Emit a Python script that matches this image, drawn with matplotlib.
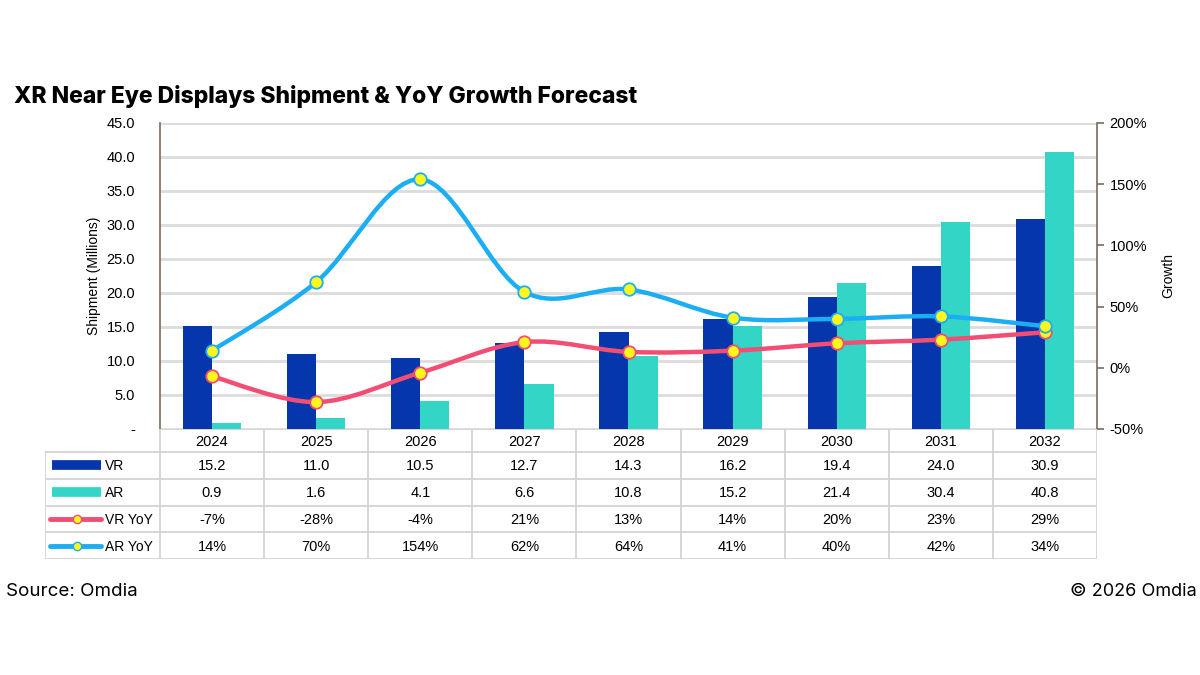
import matplotlib
matplotlib.use("Agg")
import matplotlib.pyplot as plt
import numpy as np
from matplotlib.path import Path
from matplotlib.patches import PathPatch

years = ["2024", "2025", "2026", "2027", "2028", "2029", "2030", "2031", "2032"]
vr = [15.2, 11.0, 10.5, 12.7, 14.3, 16.2, 19.4, 24.0, 30.9]
ar = [0.9, 1.6, 4.1, 6.6, 10.8, 15.2, 21.4, 30.4, 40.8]
vr_yoy = [-7, -28, -4, 21, 13, 14, 20, 23, 29]
ar_yoy = [14, 70, 154, 62, 64, 41, 40, 42, 34]

VR_C = "#0636AC"
AR_C = "#33D6C6"
VRY_C = "#F24D73"
ARY_C = "#1CAEF2"
MK_C = "#FFF71C"
SPINE_C = "#7A6A5C"
GRID_C = "#DCDCDC"

plt.rcParams["font.family"] = ["Liberation Sans", "DejaVu Sans"]

W, H = 1200, 675
fig = plt.figure(figsize=(12, 6.75), dpi=100)

def fx(px):
    return px / W

def fy(py):
    return 1 - py / H

ax_l, ax_r, ax_t, ax_b = 160, 1097, 123, 429
ax = fig.add_axes([fx(ax_l), fy(ax_b), fx(ax_r - ax_l), fy(ax_t) - fy(ax_b)])
x = np.arange(len(years))
bw = 0.28
ax.bar(x - bw / 2, vr, bw, color=VR_C, zorder=2)
ax.bar(x + bw / 2, ar, bw, color=AR_C, zorder=2)
ax.set_xlim(-0.5, len(years) - 0.5)
ax.set_ylim(0, 45)
ax.set_yticks(np.arange(0, 46, 5))
ax.set_yticklabels(["-"] + [f"{v:.1f}" for v in range(5, 46, 5)])
ax.set_xticks([])
ax.yaxis.grid(True, color=GRID_C, lw=2)
ax.set_axisbelow(True)
for s in ["top", "right", "bottom"]:
    ax.spines[s].set_visible(False)
ax.spines["left"].set_color(SPINE_C)
ax.spines["left"].set_linewidth(1.2)
ax.tick_params(axis="y", length=0, labelsize=10.5, pad=18)
ax.set_ylabel("Shipment (Millions)", fontsize=10, labelpad=4)

ax2 = ax.twinx()
ax2.set_ylim(-50, 200)
ax2.set_yticks(np.arange(-50, 201, 50))
ax2.set_yticklabels([f"{v}%" for v in range(-50, 201, 50)])
for s in ["top", "left", "bottom"]:
    ax2.spines[s].set_visible(False)
ax2.spines["right"].set_color(SPINE_C)
ax2.spines["right"].set_linewidth(1.2)
ax2.tick_params(axis="y", length=5, width=1.2, color=SPINE_C, labelsize=10.5, pad=4)
ax2.set_ylabel("Growth", fontsize=10, labelpad=10)


def smooth_path(xs, ys):
    pts = np.column_stack([xs, ys]).astype(float)
    n = len(pts)
    verts = [pts[0]]
    codes = [Path.MOVETO]
    for i in range(n - 1):
        p0 = pts[i - 1] if i > 0 else pts[i]
        p1 = pts[i]
        p2 = pts[i + 1]
        p3 = pts[i + 2] if i + 2 < n else pts[i + 1]
        c1 = p1 + (p2 - p0) / 6
        c2 = p2 - (p3 - p1) / 6
        verts += [c1, c2, p2]
        codes += [Path.CURVE4] * 3
    return Path(verts, codes)


for vals, col in [(vr_yoy, VRY_C), (ar_yoy, ARY_C)]:
    ax2.add_patch(PathPatch(smooth_path(x, vals), fill=False, edgecolor=col,
                            lw=3.2, capstyle="round", zorder=3))
    ax2.plot(x, vals, ls="none", marker="o", ms=9, mfc=MK_C, mec=col,
             mew=1.3, zorder=4)

# data table
tb_l, tb_top, tb_bot = 45, 429, 559
hdr_h = 23
row_h = (tb_bot - tb_top - hdr_h) / 4
tax = fig.add_axes([fx(tb_l), fy(tb_bot), fx(ax_r - tb_l), fy(tb_top) - fy(tb_bot)])
unit = (ax_r - ax_l) / len(years)
lab_w = (ax_l - tb_l) / unit
tax.set_xlim(-0.5 - lab_w, len(years) - 0.5)
tax.set_ylim(tb_bot - tb_top, 0)
tax.axis("off")

lc = "#D3D3D3"
row_tops = [hdr_h + i * row_h for i in range(5)]
total = tb_bot - tb_top
tax.plot([-0.5, len(years) - 0.5], [0, 0], color=lc, lw=1.3)
for yy in row_tops:
    tax.plot([-0.5 - lab_w, len(years) - 0.5], [yy, yy], color=lc, lw=1.3)
for i in range(len(years) + 1):
    tax.plot([i - 0.5, i - 0.5], [0, total], color=lc, lw=1.3)
tax.plot([-0.5 - lab_w, -0.5 - lab_w], [hdr_h, total], color=lc, lw=1.3)

for i, yr in enumerate(years):
    tax.text(i, hdr_h / 2 + 1, yr, ha="center", va="center", fontsize=10.5)

rows = [
    ("VR", [f"{v:.1f}" for v in vr]),
    ("AR", [f"{v:.1f}" for v in ar]),
    ("VR YoY", [f"{v}%" for v in vr_yoy]),
    ("AR YoY", [f"{v}%" for v in ar_yoy]),
]
sw_x0 = -0.5 - lab_w + 0.07
sw_x1 = sw_x0 + 0.47
for r, (name, vals) in enumerate(rows):
    yc = hdr_h + r * row_h + row_h / 2
    for i, s in enumerate(vals):
        tax.text(i, yc + 1, s, ha="center", va="center", fontsize=10.5)
    tax.text(sw_x1 + 0.035, yc + 1, name, ha="left", va="center", fontsize=10)
    if r == 0:
        tax.plot([sw_x0, sw_x1], [yc, yc], color=VR_C, lw=7, solid_capstyle="butt")
    elif r == 1:
        tax.plot([sw_x0, sw_x1], [yc, yc], color=AR_C, lw=7, solid_capstyle="butt")
    else:
        col = VRY_C if r == 2 else ARY_C
        tax.plot([sw_x0 - 0.02, sw_x1], [yc, yc], color=col, lw=3.5,
                 solid_capstyle="round")
        tax.plot([(sw_x0 + sw_x1) / 2], [yc], marker="o", ms=6, mfc=MK_C,
                 mec=col, mew=1)

fig.text(fx(14), fy(97), "XR Near Eye Displays Shipment & YoY Growth Forecast",
         fontsize=16.5, fontweight=800, family=["Inter", "DejaVu Sans"],
         ha="left", va="center")
fig.text(fx(6), fy(591), "Source: Omdia", fontsize=13.5,
         family=["Inter", "DejaVu Sans"], ha="left", va="center")
fig.text(fx(1197), fy(591), "\u00a9 2026 Omdia", fontsize=13,
         family=["Inter", "DejaVu Sans"], ha="right", va="center")

fig.savefig("out.png", dpi=100, facecolor="white")
